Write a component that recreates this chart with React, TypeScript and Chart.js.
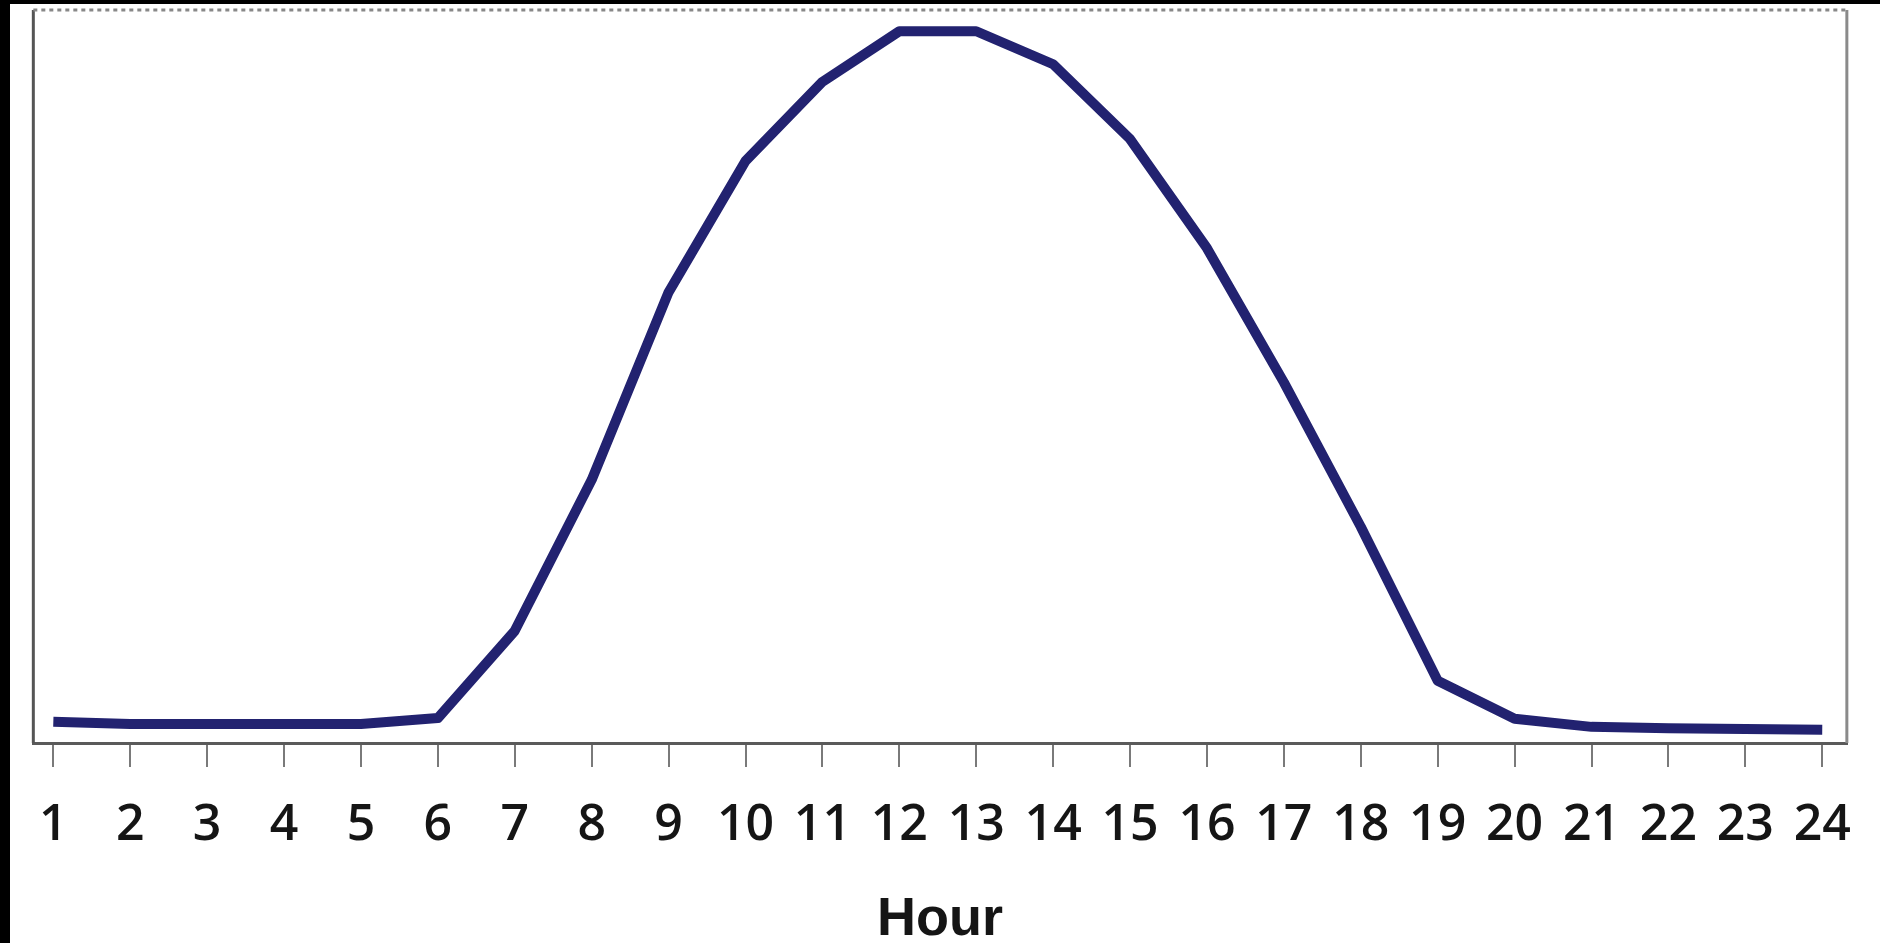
import React, { useEffect, useRef } from "react";
import { Chart, registerables } from "chart.js";

Chart.register(...registerables);

const hours: number[] = [1, 2, 3, 4, 5, 6, 7, 8, 9, 10, 11, 12, 13, 14, 15, 16, 17, 18, 19, 20, 21, 22, 23, 24];
const tickLabels: string[] = hours.map((h) => String(h));
const values: number[] = [2.9, 2.6, 2.6, 2.6, 2.6, 3.4, 15.3, 35.9, 61.5, 79.4, 90.2, 97.1, 97.1, 92.6, 82.4, 67.5, 49.2, 29.5, 8.5, 3.3, 2.2, 2.0, 1.9, 1.8];
const xTitle = "Hour";

const CANVAS_W = 1870;
const CANVAS_H = 950;

const framePlugin = {
  id: "frame",
  afterDraw(chart: any) {
    const { ctx, chartArea } = chart;
    const { left, top, right, bottom } = chartArea;
    ctx.save();
    ctx.strokeStyle = "#555555";
    ctx.lineWidth = 3;
    ctx.beginPath();
    ctx.moveTo(left, top);
    ctx.lineTo(left, bottom);
    ctx.stroke();
    ctx.strokeStyle = "#8a8a8a";
    ctx.lineWidth = 3;
    ctx.beginPath();
    ctx.moveTo(right, top);
    ctx.lineTo(right, bottom);
    ctx.stroke();
    ctx.strokeStyle = "#888888";
    ctx.lineWidth = 3;
    ctx.setLineDash([4, 4]);
    ctx.beginPath();
    ctx.moveTo(left, top);
    ctx.lineTo(right, top);
    ctx.stroke();
    ctx.restore();
  },
};

export default function App() {
  const ref = useRef<HTMLCanvasElement | null>(null);

  useEffect(() => {
    if (!ref.current) return;
    const chart = new Chart(ref.current, {
      type: "line",
      data: {
        datasets: [
          {
            data: hours.map((h, i) => ({ x: h, y: values[i] })),
            borderColor: "#222270",
            borderWidth: 10,
            pointRadius: 0,
            tension: 0,
            fill: false,
            borderCapStyle: "butt",
            borderJoinStyle: "round",
          },
        ],
      },
      options: {
        responsive: false,
        animation: false,
        devicePixelRatio: 1,
        layout: { padding: { left: 12, top: 6, right: 24, bottom: 0 } },
        plugins: {
          legend: { display: false },
          tooltip: { enabled: false },
        },
        scales: {
          x: {
            type: "linear",
            min: 0.74,
            max: 24.32,
            afterBuildTicks: (scale: any) => {
              scale.ticks = hours.map((h) => ({ value: h }));
            },
            afterFit: (scale: any) => {
              scale.height = CANVAS_H - 739;
            },
            grid: {
              display: true,
              drawOnChartArea: false,
              drawTicks: true,
              tickLength: 24,
              color: "#7a7a7a",
              lineWidth: 2,
            },
            border: { display: true, color: "#5a5a5a", width: 3 },
            ticks: {
              autoSkip: false,
              maxRotation: 0,
              minRotation: 0,
              padding: 29,
              color: "#151515",
              font: { family: "'Open Sans', 'Liberation Sans', sans-serif", size: 50, weight: "600", lineHeight: 1.2 },
              callback: (v: any) => {
                const i = hours.indexOf(Number(v));
                return i >= 0 ? tickLabels[i] : "";
              },
            },
            title: {
              display: true,
              text: xTitle,
              color: "#151515",
              font: { family: "'Liberation Sans', Arial, sans-serif", size: 54, weight: "bold", lineHeight: 1.2 },
              padding: { top: 0, bottom: 1 },
            },
          },
          y: {
            display: false,
            min: 0,
            max: 100,
          },
        },
      },
      plugins: [framePlugin],
    } as any);
    return () => chart.destroy();
  }, []);

  return (
    <div
      style={{
        position: "fixed",
        left: 0,
        top: 0,
        width: 1880,
        height: 943,
        background: "#000",
        overflow: "hidden",
      }}
    >
      <div
        style={{
          position: "absolute",
          left: 10,
          top: 4,
          width: CANVAS_W,
          height: CANVAS_H,
          background: "#fff",
        }}
      >
        <canvas ref={ref} width={CANVAS_W} height={CANVAS_H} style={{ display: "block" }} />
      </div>
    </div>
  );
}
